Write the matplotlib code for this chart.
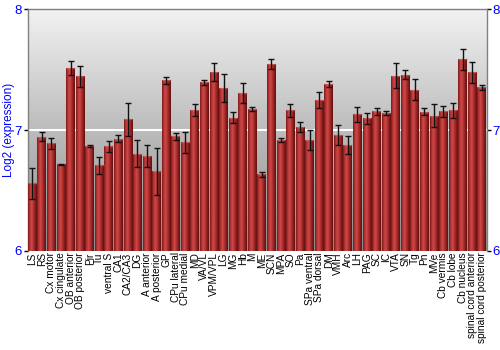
import numpy as np
import matplotlib
matplotlib.use("Agg")
import matplotlib.pyplot as plt
from matplotlib.colors import LinearSegmentedColormap

plt.rcParams['font.family'] = ['Liberation Sans', 'DejaVu Sans']

regions = ["LS", "RS", "Cx motor", "Cx cingulate", "OB anterior", "OB posterior", "Pir", "Tu",
           "ventral S", "CA1", "CA2/CA3", "DG", "A anterior", "A posterior", "GP", "CPu lateral",
           "CPu medial", "MD", "VA/VL", "VPM/VPL", "LG", "MG", "Hb", "M", "ME", "SCN", "MPA", "SO",
           "Pa", "SPa ventral", "SPa dorsal", "DM", "VMH", "Arc", "LH", "PAG", "SC", "IC", "VTA",
           "SN", "Tg", "Pn", "MVe", "Cb vermis", "Cb lobe", "Cb nucleus", "spinal cord anterior",
           "spinal cord posterior"]
expression = [6.56, 6.945, 6.89, 6.718, 7.517, 7.447, 6.867, 6.71,
              6.867, 6.931, 7.091, 6.807, 6.787, 6.66, 7.414, 6.95,
              6.90, 7.166, 7.398, 7.481, 7.348, 7.105, 7.309, 7.174, 6.635, 7.547, 6.917, 7.166,
              7.025, 6.917, 7.249, 7.384, 6.959, 6.876, 7.133, 7.099, 7.155, 7.141, 7.45,
              7.461, 7.337, 7.152, 7.119, 7.157, 7.166, 7.588, 7.481,
              7.356]
error = [0.127, 0.036, 0.044, 0.005, 0.057, 0.086, 0.007, 0.069,
         0.044, 0.028, 0.135, 0.112, 0.091, 0.196, 0.03, 0.028,
         0.086, 0.052, 0.021, 0.077, 0.116, 0.043, 0.083, 0.018, 0.021, 0.04, 0.015, 0.054,
         0.039, 0.083, 0.066, 0.025, 0.081, 0.073, 0.061, 0.046, 0.026, 0.019, 0.104,
         0.039, 0.091, 0.028, 0.094, 0.044, 0.061, 0.088, 0.087,
         0.019]
yticks = [6, 7, 8]
ylims = (6, 8)

fig = plt.figure(figsize=(5, 3.5), dpi=100)
ax = fig.add_axes([0.055, 0.283, 0.918, 0.69])

x = np.arange(len(regions))
ax.set_xlim(-0.5, len(regions) - 0.5)
ax.set_ylim(*ylims)

# background vertical gradient
bg = LinearSegmentedColormap.from_list("bg", ["#8c8c8c", "#bcbcbc", "#f2f2f2"])
grad = np.linspace(0, 1, 256).reshape(-1, 1)
ax.imshow(grad, cmap=bg, aspect='auto', origin='lower',
          extent=(-0.5, len(regions) - 0.5, ylims[0], ylims[1]), zorder=0)

ax.axhline(7, color='white', lw=1.5, zorder=1)

bars = ax.bar(x, [v - ylims[0] for v in expression], bottom=ylims[0], width=0.92,
              color='#b03030', edgecolor='none', zorder=2)

barcmap = LinearSegmentedColormap.from_list(
    "bar", ["#7a1a1a", "#b83434", "#cc4a4a", "#b53232", "#8a1e1e", "#5e1010"])
hgrad = np.linspace(0, 1, 64).reshape(1, -1)
for b in bars:
    x0, y0 = b.get_x(), b.get_y()
    w, h = b.get_width(), b.get_height()
    im = ax.imshow(hgrad, cmap=barcmap, aspect='auto',
                   extent=(x0, x0 + w, y0, y0 + h), zorder=3)
    im.set_clip_path(b)
    b.set_facecolor('none')
    ax.plot([x0, x0 + w], [y0 + h, y0 + h], color='#d87070', lw=1, alpha=0.6,
            solid_capstyle='butt', zorder=4)

ax.errorbar(x, expression, yerr=error, fmt='none', ecolor='#111111', elinewidth=1,
            capsize=2, capthick=1, zorder=5)

ax.set_xlim(-0.5, len(regions) - 0.5)
ax.set_ylim(*ylims)

ax.set_yticks(yticks)
ax.set_yticklabels([str(t) for t in yticks])
ax.tick_params(axis='y', which='both', left=True, right=True, labelleft=True,
               labelright=True, labelcolor='#0000ff', labelsize=9.5, length=3,
               width=1, color='black', pad=1)
ax.set_xticks(x)
ax.set_xticklabels(regions, rotation=90, fontsize=7.3)
ax.tick_params(axis='x', length=0, pad=1)

ax.set_ylabel("Log2 (expression)", color='#0000ff', fontsize=8.5)
ax.yaxis.set_label_coords(-0.028, 0.5)

for s in ['left', 'right', 'top']:
    ax.spines[s].set_color('#808080')
    ax.spines[s].set_linewidth(1)
ax.spines['bottom'].set_visible(False)

fig.savefig("out.png", dpi=100)
